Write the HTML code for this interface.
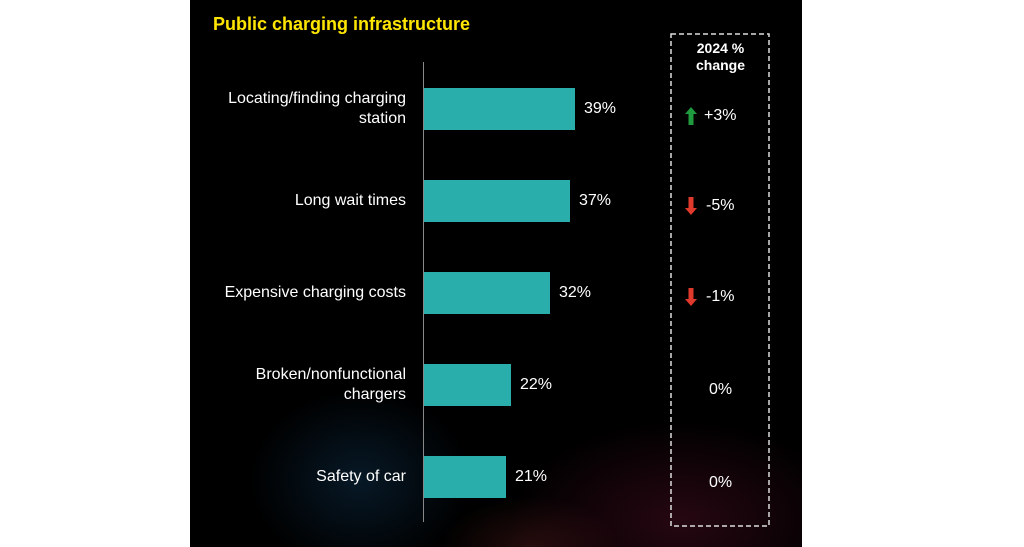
<!DOCTYPE html>
<html><head><style>
html,body{margin:0;width:1024px;height:547px;overflow:hidden}
body{background:#fff;font-family:"Liberation Sans",sans-serif;position:relative}
#p{position:absolute;left:190px;top:0;width:612px;height:547px;overflow:hidden;
background:radial-gradient(ellipse 110px 90px at 170px 480px,rgba(20,70,110,.35),rgba(0,0,0,0)),
radial-gradient(ellipse 170px 100px at 490px 520px,rgba(110,20,50,.35),rgba(0,0,0,0)),
radial-gradient(ellipse 90px 50px at 340px 547px,rgba(120,40,40,.3),rgba(0,0,0,0)),#000}
.t{position:absolute;color:#fff;font-size:16px;line-height:20px}
.l{text-align:right;right:396px}
.bar{position:absolute;left:234px;height:42px;background:#2aaeac}
</style></head><body>
<div id="p">
<div class="t" style="left:23px;top:14px;color:#ffe600;font-weight:bold;font-size:18px">Public charging infrastructure</div>
<div style="position:absolute;left:233px;top:62px;width:1px;height:460px;background:#888"></div>
<div class="t l" style="top:89px">Locating/finding charging<br>station</div>
<div class="bar" style="top:88px;width:151px"></div><div class="t" style="left:394px;top:99px">39%</div>
<div class="t l" style="top:191px">Long wait times</div>
<div class="bar" style="top:180px;width:146px"></div><div class="t" style="left:389px;top:191px">37%</div>
<div class="t l" style="top:283px">Expensive charging costs</div>
<div class="bar" style="top:272px;width:126px"></div><div class="t" style="left:369px;top:283px">32%</div>
<div class="t l" style="top:365px">Broken/nonfunctional<br>chargers</div>
<div class="bar" style="top:364px;width:87px"></div><div class="t" style="left:330px;top:375px">22%</div>
<div class="t l" style="top:467px">Safety of car</div>
<div class="bar" style="top:456px;width:82px"></div><div class="t" style="left:325px;top:467px">21%</div>
<svg style="position:absolute;left:479px;top:32px" width="104" height="496"><rect x="2" y="2" width="98" height="492" fill="none" stroke="#ddd" stroke-width="1.5" stroke-dasharray="5,3"/></svg>
<div class="t" style="left:481px;width:99px;top:40px;text-align:center;font-weight:bold;font-size:14px;line-height:17px">2024 %<br>change</div>
<svg style="position:absolute;left:495px;top:107px" width="12" height="18"><polygon points="6,0 12,7 8.5,7 8.5,18 3.5,18 3.5,7 0,7" fill="#1f9a3e"/></svg>
<div class="t" style="left:514px;top:106px">+3%</div>
<svg style="position:absolute;left:495px;top:197px" width="12" height="18"><polygon points="6,18 12,11 8.5,11 8.5,0 3.5,0 3.5,11 0,11" fill="#e03a2c"/></svg>
<div class="t" style="left:516px;top:196px">-5%</div>
<svg style="position:absolute;left:495px;top:288px" width="12" height="18"><polygon points="6,18 12,11 8.5,11 8.5,0 3.5,0 3.5,11 0,11" fill="#e03a2c"/></svg>
<div class="t" style="left:516px;top:287px">-1%</div>
<div class="t" style="left:519px;top:380px">0%</div>
<div class="t" style="left:519px;top:473px">0%</div>
</div>
</body></html>
